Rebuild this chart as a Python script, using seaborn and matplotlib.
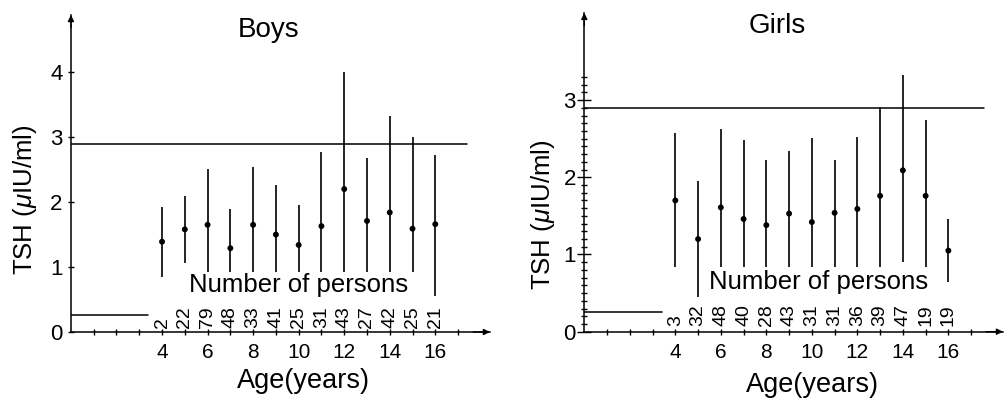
import matplotlib
matplotlib.use("Agg")
import matplotlib.pyplot as plt
import seaborn as sns
import pandas as pd

ages = [4, 5, 6, 7, 8, 9, 10, 11, 12, 13, 14, 15, 16]

boys_mean = [1.39, 1.58, 1.65, 1.29, 1.65, 1.50, 1.34, 1.63, 2.20, 1.71, 1.84, 1.59, 1.66]
boys_high = [1.92, 2.10, 2.51, 1.90, 2.54, 2.27, 1.95, 2.77, 4.01, 2.68, 3.33, 3.00, 2.73]
boys_low = [0.85, 1.06, 0.93, 0.93, 0.93, 0.93, 0.93, 0.93, 0.93, 0.93, 0.93, 0.93, 0.55]
boys_n = [2, 22, 79, 48, 33, 41, 25, 31, 43, 27, 42, 25, 21]

girls_mean = [1.70, 1.20, 1.61, 1.46, 1.38, 1.53, 1.42, 1.54, 1.59, 1.76, 2.09, 1.76, 1.05]
girls_high = [2.58, 1.95, 2.62, 2.48, 2.22, 2.34, 2.51, 2.23, 2.52, 2.91, 3.33, 2.74, 1.46]
girls_low = [0.84, 0.45, 0.84, 0.84, 0.84, 0.84, 0.84, 0.84, 0.84, 0.84, 0.90, 0.84, 0.65]
girls_n = [3, 32, 48, 40, 28, 43, 31, 31, 36, 39, 47, 19, 19]

upper_ref = 2.9
lower_ref = 0.26
x_tick_labels = ["4", "6", "8", "10", "12", "14", "16"]

sns.set_theme(style="white")
plt.rcParams["font.family"] = ["Liberation Sans", "DejaVu Sans"]
plt.rcParams["mathtext.fontset"] = "custom"
plt.rcParams["mathtext.it"] = "Liberation Sans:italic"
for k in ["text.color", "axes.labelcolor", "xtick.color", "ytick.color",
          "axes.edgecolor"]:
    plt.rcParams[k] = "black"

NARROW = ["Liberation Sans Narrow", "Liberation Sans", "DejaVu Sans"]

fig = plt.figure(figsize=(10.05, 4.0), dpi=100)
axL = fig.add_axes([0.0706, 0.17, 0.4169, 0.7925])
axR = fig.add_axes([0.5814, 0.1708, 0.4166, 0.797])


def draw(ax, mean, high, low, n, ymax, title, title_xy, np_xy, n_y, upper_end,
         minor_y, xlab_xy, ylab_xy):
    df = pd.DataFrame({"age": ages, "mean": mean, "high": high, "low": low})
    ax.vlines(df["age"], df["low"], df["high"], color="black", lw=1.2)
    sns.scatterplot(data=df, x="age", y="mean", ax=ax, color="black", s=18,
                    edgecolor="none", zorder=3, legend=False)
    ax.plot([0, upper_end], [upper_ref, upper_ref], color="black", lw=1.1)
    ax.plot([0, 3.4], [lower_ref, lower_ref], color="black", lw=1.1)
    ax.set_xlim(0, 18.4)
    ax.set_ylim(0, ymax)
    for s in ["top", "right"]:
        ax.spines[s].set_visible(False)
    for s in ["left", "bottom"]:
        ax.spines[s].set_linewidth(1.1)
        ax.spines[s].set_color("black")
    xt = list(range(1, 18))
    ax.set_xticks(xt)
    ax.set_xticklabels([str(v) if str(v) in x_tick_labels else "" for v in xt])
    ax.set_yticks([0, 1, 2, 3] + ([4] if ymax > 4.5 else []))
    ax.tick_params(axis="x", direction="inout", length=4, width=1, pad=6,
                   labelsize=15, bottom=True)
    for lab in ax.get_xticklabels():
        lab.set_family(NARROW)
    if minor_y:
        ax.set_yticks([i / 10 for i in range(1, 34) if i % 10 != 0], minor=True)
        ax.tick_params(axis="y", which="minor", direction="inout", length=4,
                       width=1, left=True)
        ax.tick_params(axis="y", which="major", direction="inout", length=10,
                       width=1, pad=1, labelsize=16, left=True)
    else:
        ax.tick_params(axis="y", direction="inout", length=4, width=1, pad=4,
                       labelsize=16, left=True)
    for lab in ax.get_yticklabels():
        lab.set_family(NARROW)
    ax.set_xlabel("")
    ax.set_ylabel("TSH ($\\mu$IU/ml)", fontsize=18.5)
    ax.yaxis.set_label_coords(*ylab_xy)
    ax.text(xlab_xy[0], xlab_xy[1], "Age(years)", transform=ax.transAxes,
            ha="center", va="top", fontsize=19.5)
    ax.text(title_xy[0], title_xy[1], title, ha="center", va="center", fontsize=20)
    ax.text(np_xy[0], np_xy[1], "Number of persons", ha="center", va="center",
            fontsize=18.5)
    for a, k in zip(ages, n):
        ax.text(a, n_y, str(k), rotation=90, ha="center", va="bottom",
                fontsize=14, family=NARROW, color="black")
    ax.annotate("", xy=(0, 1.0), xytext=(0, 0.96), xycoords="axes fraction",
                arrowprops=dict(arrowstyle="-|>", color="black", lw=1,
                                mutation_scale=9, shrinkA=0, shrinkB=0))
    ax.annotate("", xy=(1.0, 0), xytext=(0.96, 0), xycoords="axes fraction",
                arrowprops=dict(arrowstyle="-|>", color="black", lw=1,
                                mutation_scale=9, shrinkA=0, shrinkB=0))


draw(axL, boys_mean, boys_high, boys_low, boys_n, 4.88, "Boys", (8.7, 4.65),
     (10.0, 0.72), 0.06, 17.4, False, (0.554, -0.115), (-0.077, 0.416))
draw(axR, girls_mean, girls_high, girls_low, girls_n, 4.13, "Girls", (8.5, 3.96),
     (10.3, 0.64), 0.08, 17.56, True, (0.545, -0.125), (-0.066, 0.366))

fig.savefig("out.png", dpi=100, facecolor="white")
